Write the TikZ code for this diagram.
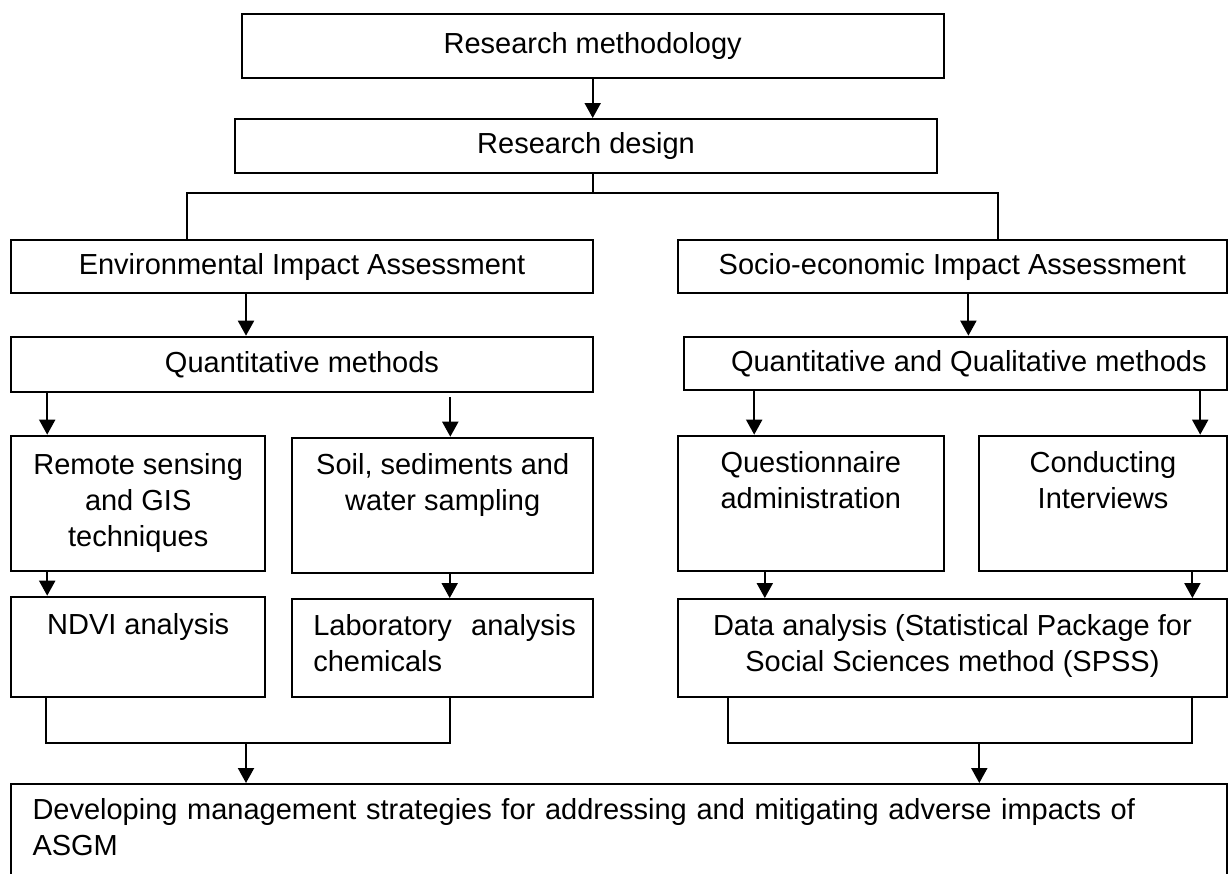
\documentclass[tikz,border=0pt]{standalone}
\usepackage{fontspec}
\setmainfont{Liberation Sans}
\usetikzlibrary{arrows.meta}

\tikzset{
  box/.style={draw, line width=2pt, inner sep=0pt, align=center,
    font=\fontsize{29}{36}\selectfont},
  line/.style={line width=2pt},
  arr/.style={line width=2pt, -{Triangle[length=15pt,width=16pt]}},
}

\begin{document}
\begin{tikzpicture}[x=1pt,y=-1pt]
\useasboundingbox (0,0) rectangle (1228,873);

% top of the chart
\node[box, minimum width=702pt, minimum height=64pt] (meth) at (592.7,46) {Research methodology};
\node[box, minimum width=702pt, minimum height=54pt] (design) at (586,146) {Research design};

% the two assessments
\node[box, minimum width=582pt, minimum height=53pt] (env) at (302,266.5) {Environmental Impact Assessment};
\node[box, minimum width=549pt, minimum height=53pt] (socio) at (952.4,266.5) {Socio-economic Impact Assessment};
\node[box, minimum width=582pt, minimum height=55.6pt] (quant) at (302,364.5) {Quantitative methods};
\node[box, minimum width=543pt, minimum height=53.3pt] (qq) at (955.3,363.3) {\hspace*{27pt}Quantitative and Qualitative methods};

% methods
\node[box, minimum width=254.5pt, minimum height=135.3pt] (remote) at (138.2,503.3) {Remote sensing\\and GIS\\techniques};
\node[box, minimum width=300.5pt, minimum height=135.6pt] (soil) at (442.7,505.5) {Soil, sediments and\\water sampling\\\strut};
\node[box, minimum width=266pt, minimum height=135.3pt] (quest) at (810.8,503.3) {Questionnaire\\administration\\\strut};
\node[box, minimum width=248pt, minimum height=135.3pt] (conduct) at (1103,503.3) {Conducting\\Interviews\\\strut};

% analysis
\node[box, minimum width=254.5pt, minimum height=100.6pt] (ndvi) at (138.2,647) {NDVI analysis\\\strut};
\node[box, minimum width=300.5pt, minimum height=98.3pt, text width=258.9pt, inner xsep=20.8pt, align=left] (lab) at (442.7,648.2) {\mbox{Laboratory\ \ analysis}\\chemicals\strut};
\node[box, minimum width=549pt, minimum height=98.3pt] (data) at (952.4,648.2) {Data analysis (Statistical Package for\\Social Sciences method (SPSS)\strut};

% outcome (runs off the bottom of the page)
\node[box, minimum width=1216pt, minimum height=96pt, text width=1173pt, inner xsep=21.5pt, align=left] (goal) at (619,832) {Developing management strategies for addressing and mitigating adverse impacts of\\ASGM\strut};

% connectors
\draw[arr] (meth.south) -- (meth.south |- design.north);
\coordinate (brL) at (187,193);
\coordinate (brR) at (998,193);
\draw[line] (design.south -| meth.south) -- (meth.south |- brL);
\draw[line] (brL |- env.north) -- (brL) -- (brR) -- (brR |- socio.north);

\draw[arr] ([xshift=-56pt]env.south) -- ([xshift=-56pt]env.south |- quant.north);
\draw[arr] ([xshift=-91pt]remote.north |- quant.south) -- ([xshift=-91pt]remote.north);
\draw[arr, shorten <=4pt] ([xshift=7.6pt]soil.north |- quant.south) -- ([xshift=7.6pt]soil.north);
\draw[arr] ([xshift=-91pt]remote.south) -- ([xshift=-91pt]remote.south |- ndvi.north);
\draw[arr] ([xshift=7pt]soil.south) -- ([xshift=7pt]soil.south |- lab.north);

\draw[arr] ([xshift=16pt]socio.south) -- ([xshift=16pt]socio.south |- qq.north);
\draw[arr] ([xshift=-56.6pt]quest.north |- qq.south) -- ([xshift=-56.6pt]quest.north);
\draw[arr] ([xshift=97.2pt]conduct.north |- qq.south) -- ([xshift=97.2pt]conduct.north);
\draw[arr] ([xshift=-46pt]quest.south) -- ([xshift=-46pt]quest.south |- data.north);
\draw[arr] ([xshift=89.4pt]conduct.south) -- ([xshift=89.4pt]conduct.south |- data.north);

\coordinate (jL) at (246,742.7);
\coordinate (jR) at (979.3,742.7);
\draw[line] ([xshift=-92pt]ndvi.south) |- (jL) -| ([xshift=7pt]lab.south);
\draw[arr] (jL) -- (jL |- goal.north);
\draw[line] ([xshift=-224.1pt]data.south) |- (jR) -| ([xshift=240pt]data.south);
\draw[arr] (jR) -- (jR |- goal.north);
\end{tikzpicture}
\end{document}
